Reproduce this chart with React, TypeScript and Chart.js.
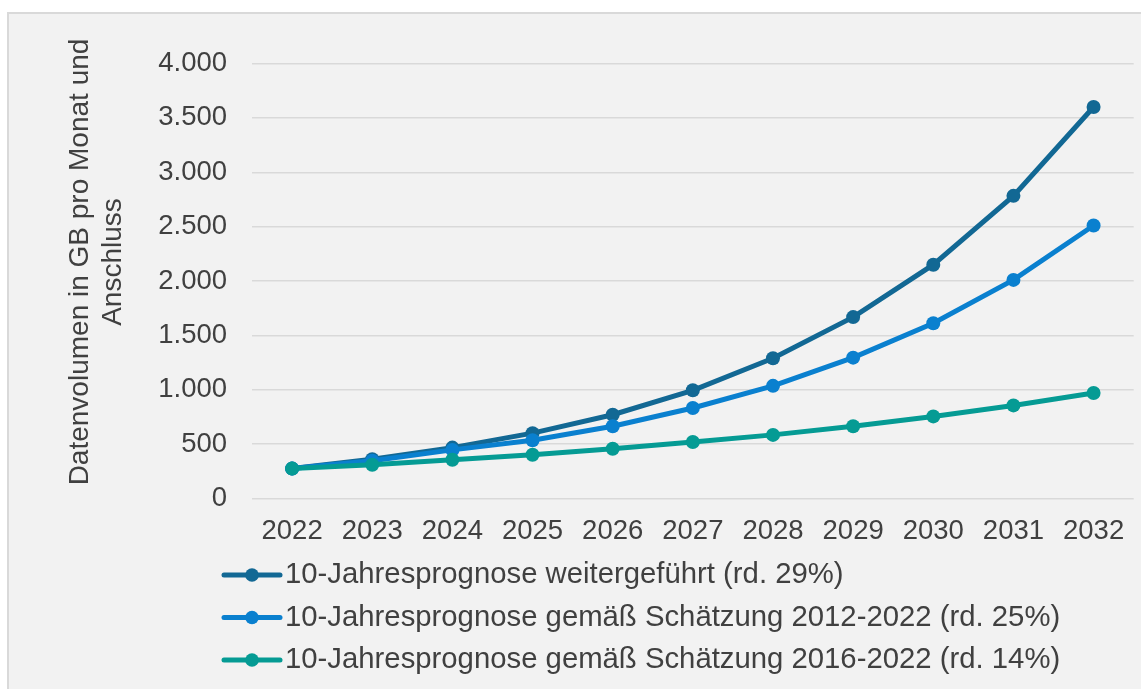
import React, { useEffect, useRef } from "react";
import { Chart, registerables } from "chart.js";

Chart.register(...registerables);

const years = ["2022", "2023", "2024", "2025", "2026", "2027", "2028", "2029", "2030", "2031", "2032"];
const seriesLabels = [
  "10-Jahresprognose weitergeführt (rd. 29%)",
  "10-Jahresprognose gemäß Schätzung 2012-2022 (rd. 25%)",
  "10-Jahresprognose gemäß Schätzung 2016-2022 (rd. 14%)",
];
const continued = [275, 362, 468, 601, 770, 995, 1290, 1668, 2150, 2783, 3600];
const est2012 = [275, 347, 447, 535, 664, 832, 1036, 1295, 1612, 2010, 2510];
const est2016 = [275, 310, 356, 402, 457, 519, 585, 665, 755, 856, 970];
const yMin = 0;
const yMax = 4000;
const yStep = 500;
const axisTitle = ["Datenvolumen in GB pro Monat und", "Anschluss"];

const colors = ["#126894", "#0a80cf", "#059b94"];
const textColor = "#404040";
const fontFamily = "'Liberation Sans', Arial, sans-serif";

function formatDe(v: number): string {
  const n = Math.round(v);
  if (n >= 1000) {
    return `${Math.floor(n / 1000)}.${String(n % 1000).padStart(3, "0")}`;
  }
  return String(n);
}

const lineLegendPlugin = {
  id: "lineLegend",
  afterDraw(chart: any, _args: any, opts: any) {
    const ctx = chart.ctx as CanvasRenderingContext2D;
    chart.data.datasets.forEach((ds: any, i: number) => {
      const y = opts.y + i * opts.gap;
      ctx.save();
      ctx.strokeStyle = ds.borderColor;
      ctx.lineWidth = ds.borderWidth;
      ctx.lineCap = "round";
      ctx.beginPath();
      ctx.moveTo(opts.x, y);
      ctx.lineTo(opts.x + opts.lineLen, y);
      ctx.stroke();
      ctx.fillStyle = ds.pointBackgroundColor;
      ctx.beginPath();
      ctx.arc(opts.x + opts.lineLen / 2, y, opts.r, 0, Math.PI * 2);
      ctx.fill();
      ctx.font = `${opts.fontSize}px ${fontFamily}`;
      ctx.fillStyle = textColor;
      ctx.textBaseline = "middle";
      ctx.textAlign = "left";
      ctx.fillText(ds.label, opts.x + opts.lineLen + opts.textGap, y);
      ctx.restore();
    });
  },
};

const axisTitlePlugin = {
  id: "axisTitle",
  afterDraw(chart: any, _args: any, opts: any) {
    const ctx = chart.ctx as CanvasRenderingContext2D;
    ctx.save();
    ctx.font = `${opts.fontSize}px ${fontFamily}`;
    ctx.fillStyle = textColor;
    ctx.textAlign = "center";
    ctx.textBaseline = "middle";
    (opts.lines as string[]).forEach((line, i) => {
      ctx.save();
      ctx.translate(opts.x + i * opts.lineGap, opts.cy);
      ctx.rotate(-Math.PI / 2);
      ctx.fillText(line, 0, 0);
      ctx.restore();
    });
    ctx.restore();
  },
};

export default function App() {
  const canvasRef = useRef<HTMLCanvasElement | null>(null);

  useEffect(() => {
    document.body.style.overflow = "hidden";
    const canvas = canvasRef.current;
    if (!canvas) return;
    Chart.defaults.font.family = fontFamily;
    const seriesValues = [continued, est2012, est2016];
    const chart = new Chart(canvas, {
      type: "line",
      data: {
        labels: years,
        datasets: seriesValues.map((vals, i) => ({
          label: seriesLabels[i],
          data: vals,
          borderColor: colors[i],
          backgroundColor: colors[i],
          pointBackgroundColor: colors[i],
          pointBorderColor: colors[i],
          borderWidth: 5,
          pointRadius: 7,
          pointHoverRadius: 7,
          pointBorderWidth: 0,
          tension: 0,
          fill: false,
          order: 3 - i,
        })),
      },
      options: {
        animation: false,
        responsive: false,
        maintainAspectRatio: false,
        events: [],
        layout: {
          padding: { left: 133.2, top: 63.5, right: 0, bottom: 124.5 },
        },
        plugins: {
          legend: { display: false },
          tooltip: { enabled: false },
          title: { display: false },
          lineLegend: { x: 224, y: 575, gap: 42.5, lineLen: 56, r: 6.8, textGap: 5, fontSize: 29.3 },
          axisTitle: { lines: axisTitle, x: 80, lineGap: 33, cy: 262, fontSize: 28 },
        } as any,
        scales: {
          x: {
            type: "category",
            offset: true,
            grid: { display: false, drawTicks: false },
            border: { display: false },
            ticks: {
              color: textColor,
              font: { size: 27.5, family: fontFamily },
              padding: 16.5,
              maxRotation: 0,
              autoSkip: false,
            },
          },
          y: {
            min: yMin,
            max: yMax,
            grid: { color: "#d9d9d9", lineWidth: 1.5, drawTicks: false },
            border: { display: false },
            ticks: {
              stepSize: yStep,
              color: textColor,
              font: { size: 27.5, family: fontFamily },
              padding: 25,
              callback: (v: any) => formatDe(Number(v)),
            },
            title: { display: false },
          },
        },
      },
      plugins: [lineLegendPlugin, axisTitlePlugin],
    });
    return () => chart.destroy();
  }, []);

  return (
    <div style={{ position: "fixed", left: 0, top: 0, width: 1141, height: 689, overflow: "hidden" }}>
      <div
        style={{
          position: "absolute",
          left: 7,
          top: 12,
          width: 1134,
          height: 677,
          boxSizing: "border-box",
          background: "#f2f2f2",
          borderTop: "2px solid #d9d9d9",
          borderLeft: "2px solid #d9d9d9",
        }}
      />
      <canvas
        ref={canvasRef}
        width={1141}
        height={689}
        style={{ position: "absolute", left: 0, top: 0, width: 1141, height: 689 }}
      />
    </div>
  );
}
